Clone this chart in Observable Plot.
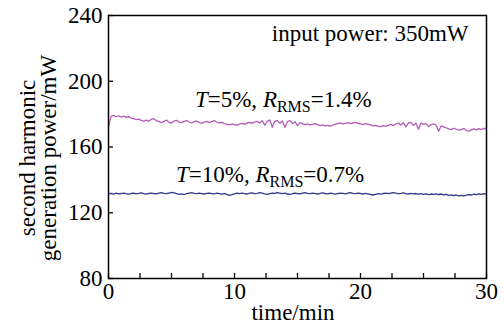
<!DOCTYPE html>
<html><head><meta charset="utf-8">
<script src="https://cdn.jsdelivr.net/npm/d3@7"></script>
<script src="https://cdn.jsdelivr.net/npm/@observablehq/plot@0.6"></script>
<style>body{margin:0;background:#fff} svg{display:block}</style>
</head><body><div id="chart"></div>
<script>
// sampling step of the recorded traces (minutes)
const timeStep = 0.2;

// T=5% trace (mW)
const powerT5 = [
  172.5, 178.6, 179.2, 178.4, 179.0, 178.2, 178.8, 178.0, 178.5, 177.6,
  177.2, 176.6, 177.0, 176.2, 175.8, 176.4, 175.6, 176.8, 177.2, 176.0,
  175.4, 174.8, 175.6, 176.4, 175.0, 174.6, 175.8, 176.2, 175.2, 174.8,
  175.6, 176.0, 175.2, 174.6, 175.4, 175.8, 175.0, 174.4, 175.2, 175.6,
  174.8, 175.4, 176.0, 175.2, 174.6, 175.0, 174.2, 173.8, 173.4, 174.0,
  173.6, 173.2, 174.0, 174.4, 173.8, 174.6, 175.0, 174.4, 175.2, 175.6,
  174.6, 176.0, 173.2, 175.8, 176.4, 172.0, 175.6, 176.2, 174.4, 175.8,
  171.8, 175.4, 176.0, 174.2, 175.4, 173.0, 174.8, 174.2, 173.6, 174.0,
  173.4, 173.8, 174.2, 173.6, 173.0, 173.4, 172.8, 173.2, 172.6, 173.4,
  173.8, 174.2, 174.6, 174.0, 174.4, 174.8, 174.2, 174.6, 175.0, 174.4,
  174.0, 173.6, 174.2, 173.8, 173.4, 172.8, 173.2, 172.6, 172.4, 173.0,
  172.6, 173.2, 173.8, 173.0, 174.0, 174.6, 173.4, 174.8, 172.2, 174.6,
  175.0, 173.2, 174.4, 170.8, 174.6, 173.8, 174.2, 172.4, 173.6, 174.0,
  173.4, 169.6, 172.8, 172.2, 171.6, 171.0, 170.6, 171.4, 170.8, 170.2,
  170.6, 171.2, 170.0, 169.6, 170.4, 171.0, 170.4, 171.2, 170.6, 171.4,
  171.0
];

// T=10% trace (mW)
const powerT10 = [
  131.6, 131.8, 131.4, 131.9, 131.5, 131.7, 132.0, 131.6, 131.3, 131.7,
  131.9, 131.5, 131.8, 132.1, 131.6, 131.4, 131.8, 132.0, 131.7, 131.5,
  131.9, 132.2, 131.8, 131.6, 132.0, 132.4, 132.1, 131.7, 131.2, 131.5,
  131.1, 131.6, 131.9, 132.2, 131.8, 131.6, 132.0, 131.7, 131.4, 131.8,
  132.0, 131.7, 131.5, 131.9, 131.6, 131.3, 131.7, 131.2, 130.6, 131.0,
  131.5, 131.9, 131.6, 132.0, 131.7, 131.4, 131.9, 132.1, 131.6, 131.8,
  132.2, 131.9, 131.5, 131.2, 131.7, 132.0, 131.8, 132.3, 132.0, 131.6,
  131.9, 131.4, 131.1, 131.6, 132.0, 131.7, 131.5, 131.9, 132.2, 131.8,
  131.6, 132.0, 131.7, 131.4, 131.8, 132.1, 131.7, 131.5, 131.9, 131.6,
  131.3, 131.7, 132.0, 131.8, 131.5, 131.9, 132.2, 131.8, 131.6, 131.9,
  131.7, 131.4, 131.8, 131.5, 131.1, 130.8, 131.2, 131.6, 131.3, 131.7,
  131.9, 131.6, 132.0, 132.3, 131.9, 131.6, 131.8, 132.1, 131.7, 131.4,
  131.8, 131.5, 131.7, 131.3, 131.6, 131.2, 131.5, 131.0, 131.4, 131.2,
  131.5, 131.1, 131.4, 130.9, 131.2, 130.6, 130.9, 130.4, 130.8, 130.3,
  130.6, 130.2, 130.7, 131.1, 130.8, 131.3, 131.0, 131.5, 131.2, 131.6,
  131.4
];

const xTicks = [0, 2.5, 5, 7.5, 10, 12.5, 15, 17.5, 20, 22.5, 25, 27.5, 30];
const xTickLabels = [0, 10, 20, 30];
const yTicks = [80, 120, 160, 200, 240];
const xTitle = "time/min";
const yTitleLines = ["second harmonic", "generation power/mW"];

// annotation texts: [text, italic?, subscript?]
const labelT5 = [["T", true, false], ["=5%, ", false, false], ["R", true, false], ["RMS", false, true], ["=1.4%", false, false]];
const labelT10 = [["T", true, false], ["=10%, ", false, false], ["R", true, false], ["RMS", false, true], ["=0.7%", false, false]];
const labelInput = [["input power: 350mW", false, false]];
const annotations = [
  {x: 6.9, y: 184.0, parts: labelT5},
  {x: 5.4, y: 138.6, parts: labelT10},
  {x: 13.0, y: 224.3, parts: labelInput}
];

const series = [
  {name: "T=5%", values: powerT5, color: "#b35cba"},
  {name: "T=10%", values: powerT10, color: "#34398c"}
];
const rows = series.flatMap(s => s.values.map((v, i) => ({t: +(i * timeStep).toFixed(2), p: v, s: s.name})));

const font = "'Liberation Serif', 'Times New Roman', 'DejaVu Serif', serif";
const chart = Plot.plot({
  width: 504, height: 327,
  marginLeft: 108, marginRight: 18, marginTop: 15, marginBottom: 49,
  style: {fontFamily: font, fontSize: "23px", background: "white", color: "black"},
  x: {domain: [0, 30]},
  y: {domain: [80, 240]},
  color: {domain: series.map(s => s.name), range: series.map(s => s.color)},
  marks: [
    Plot.line(rows, {x: "t", y: "p", z: "s", stroke: "s", strokeWidth: 1.3}),
    Plot.axisX({ticks: xTicks, tickSize: -5, tickPadding: 9, strokeWidth: 1.3,
      tickFormat: d => xTickLabels.includes(d) ? String(d) : "", label: null}),
    Plot.axisY({ticks: yTicks, tickSize: -5, tickPadding: 11, strokeWidth: 1.3, label: null}),
    Plot.frame({stroke: "black", strokeWidth: 1.5})
  ]
});

const svg = d3.select(chart);
const xs = chart.scale("x"), ys = chart.scale("y");
for (const a of annotations) {
  const t = svg.append("text")
    .attr("x", xs.apply(a.x)).attr("y", ys.apply(a.y))
    .attr("text-anchor", "start")
    .style("font-family", font).attr("font-size", 23).attr("fill", "black");
  let sub = false;
  for (const [txt, it, isSub] of a.parts) {
    const ts = t.append("tspan").text(txt);
    if (it) ts.attr("font-style", "italic");
    if (isSub) { ts.attr("font-size", 16).attr("dy", 5); sub = true; }
    else if (sub) { ts.attr("dy", -5); sub = false; }
  }
}
// x title
svg.append("text").attr("x", 293).attr("y", 320).attr("text-anchor", "middle")
  .style("font-family", font).attr("font-size", 23).text(xTitle);
// y title (two lines, rotated)
const yt = svg.append("text").attr("transform", "translate(35,158) rotate(-90)")
  .attr("text-anchor", "middle").style("font-family", font).attr("font-size", 23);
yt.append("tspan").attr("x", 0).attr("y", 0).text(yTitleLines[0]);
yt.append("tspan").attr("x", 0).attr("y", 21).text(yTitleLines[1]);

document.getElementById("chart").appendChild(chart);
</script>
</body></html>
